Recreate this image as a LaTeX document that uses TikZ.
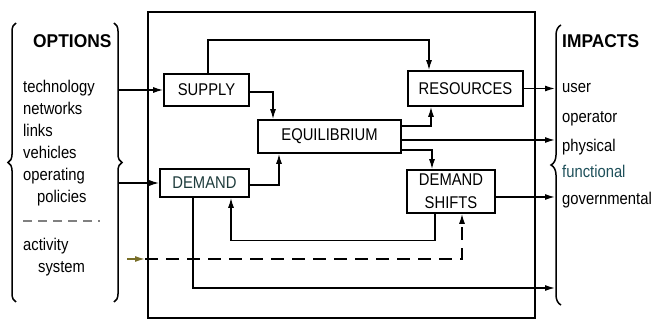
\documentclass[tikz,border=0pt]{standalone}
\usepackage{fontspec}
\setmainfont{Liberation Sans}
\newfontfamily\bodyfont[FakeStretch=0.87]{Liberation Sans}
\newfontfamily\headfont[FakeStretch=0.94]{Liberation Sans}
\usetikzlibrary{arrows.meta,decorations.pathreplacing}
\definecolor{demtext}{RGB}{30,60,60}
\definecolor{functext}{RGB}{30,80,90}
\definecolor{actol}{RGB}{120,110,40}
\begin{document}
\begin{tikzpicture}[x=1pt,y=-1pt,
  box/.style={draw, line width=1.6pt, inner sep=0pt, align=center,
    font=\bodyfont\fontsize{17}{23}\selectfont},
  conn/.style={line width=1.4pt, -{Latex[length=10pt,width=6pt]}},
  dashconn/.style={conn, dash pattern=on 13pt off 8pt},
  lbl/.style={anchor=base west, inner sep=0pt, font=\bodyfont\fontsize{17}{20}\selectfont},
  head/.style={anchor=base west, inner sep=0pt, font=\headfont\bfseries\fontsize{18.5}{20}\selectfont},
  bracestyle/.style={line width=1.5pt, decorate},
]
\useasboundingbox (0,0) rectangle (651,320);
\fill[white] (0,0) rectangle (651,320);

% system box
\node[draw, line width=2.2pt, minimum width=387pt, minimum height=306pt, inner sep=0pt] (sys) at (341.5,165) {};

% braces
\draw[bracestyle, decoration={brace, amplitude=8pt}] (16,302) -- (16,23);
\draw[bracestyle, decoration={brace, amplitude=8pt}] (114,23) -- (114,302);
\draw[bracestyle, decoration={brace, amplitude=10pt}] (561,305) -- (561,25);

% options text
\node[head] (opt) at (33,48) {OPTIONS};
\node[lbl] (t1) at (23,93) {technology};
\node[lbl] (t2) at (23,115) {networks};
\node[lbl] (t3) at (23,137) {links};
\node[lbl] (t4) at (23,159) {vehicles};
\node[lbl] (t5) at (23,181) {operating};
\node[lbl] (t6) at (37,203) {policies};
\node[lbl] (t7) at (23,251) {activity};
\node[lbl] (t8) at (38,273) {system};
\draw[line width=1.2pt, gray, dash pattern=on 9pt off 6pt] (23,221) -- (100,221);

% impacts text
\node[head] (imp) at (562,48) {IMPACTS};
\node[lbl] (u1) at (562,93) {user};
\node[lbl] (u2) at (562,123) {operator};
\node[lbl] (u3) at (562,152) {physical};
\node[lbl, text=functext] (u4) at (562,178) {functional};
\node[lbl] (u5) at (562,205) {governmental};

% boxes
\node[box, minimum width=85pt, minimum height=32pt] (sup) at (206.5,90) {SUPPLY};
\node[box, minimum width=89pt, minimum height=28pt, text=demtext] (dem) at (204.5,183) {DEMAND};
\node[box, minimum width=143pt, minimum height=33pt] (eq) at (329.5,136.5) {EQUILIBRIUM};
\node[box, minimum width=115pt, minimum height=35pt] (res) at (465.5,88.5) {RESOURCES};
\node[box, minimum width=88pt, minimum height=43pt] (ds) at (451,191.5) {DEMAND\\SHIFTS};

% free ends
\coordinate (o1) at (119,90);
\coordinate (o2) at (119,183);
\coordinate (o3) at (127,259);
\coordinate (a3) at (145,259);
\coordinate (i1) at (555,88.5);
\coordinate (i2) at (555,140);
\coordinate (i3) at (555,197);
\coordinate (i4) at (555,288);

% connectors
\draw[conn] (o1) -- (sup.west);
\draw[conn] (o2) -- (dem.west);
\draw[conn] ([xshift=1.5pt]sup.north) -- ++(0,-33) -| ([xshift=-36.5pt]res.north);
\draw[conn] ([yshift=-2pt]sup.east) -| ([xshift=-56.5pt]eq.north);
\draw[conn] ([yshift=-2pt]dem.east) -| ([xshift=-50.5pt]eq.south);
\draw[conn] ([yshift=10.5pt]eq.east) -| ([xshift=-34.5pt]res.south);
\draw[conn] ([yshift=-3.5pt]eq.east) -- (i2);
\draw[conn] ([yshift=-13.5pt]eq.east) -| ([xshift=-19pt]ds.north);
\draw[conn] (res.east) -- (i1);
\draw[conn] ([yshift=-5.5pt]ds.east) -- (i3);
\draw[conn] ([xshift=-16pt]ds.south) -- ++(0,27) -| ([xshift=26.5pt]dem.south);
\draw[conn, actol] (o3) -- (a3);
\draw[dashconn] (a3) -| ([xshift=11pt]ds.south);
\draw[conn] ([xshift=-11.5pt]dem.south) |- (i4);
\end{tikzpicture}
\end{document}
